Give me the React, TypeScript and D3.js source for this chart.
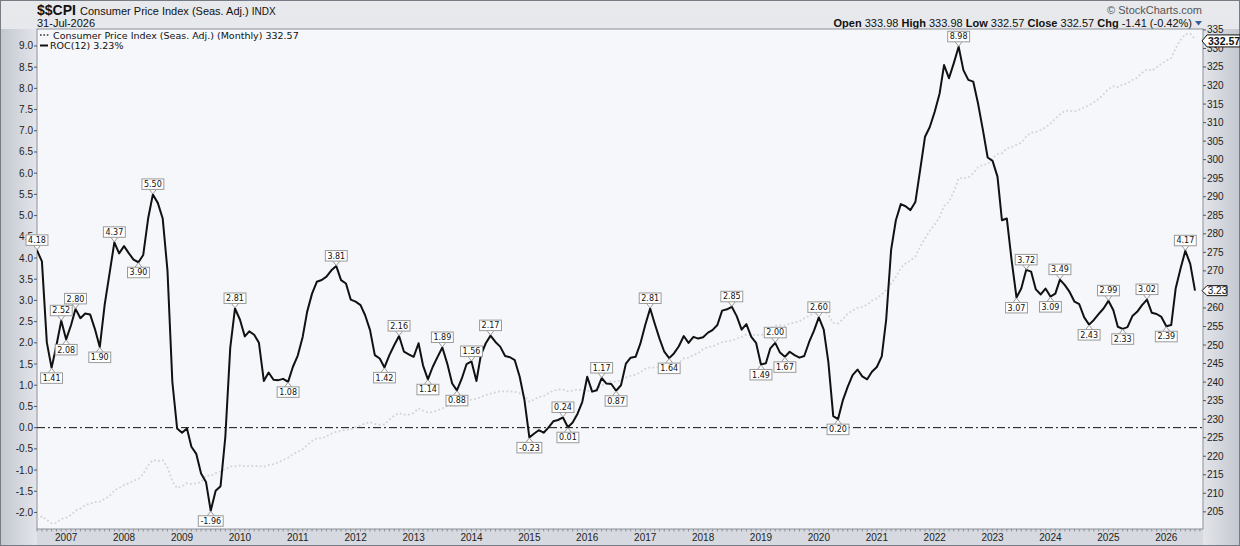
import { line, scaleLinear, scaleTime, timeFormat, timeMonth, timeYear } from "d3";
import type { ReactElement } from "react";

// monthly series, Jul 2006 .. Jul 2026
const startMonth = new Date(2006, 6, 1);
const endMonth = new Date(2026, 6, 1);

// ROC(12) of CPI, % (left axis)
const roc12: ReadonlyArray<number> = [
  4.18, 3.92, 2.01, 1.41, 1.95, 2.52,
  2.08, 2.42, 2.80, 2.58, 2.69, 2.67, 2.33, 1.90, 2.90, 3.62, 4.37, 4.11,
  4.28, 4.11, 3.96, 3.90, 4.07, 4.93, 5.50, 5.30, 4.93, 3.71, 1.07, -0.02,
  -0.12, -0.02, -0.45, -0.62, -1.08, -1.28, -1.96, -1.49, -1.38, -0.22, 1.88, 2.81,
  2.55, 2.15, 2.27, 2.19, 2.00, 1.10, 1.30, 1.13, 1.12, 1.15, 1.08, 1.43,
  1.70, 2.14, 2.73, 3.16, 3.44, 3.48, 3.56, 3.71, 3.81, 3.48, 3.40, 3.02,
  2.97, 2.89, 2.65, 2.30, 1.71, 1.63, 1.42, 1.71, 1.95, 2.16, 1.79, 1.73,
  1.67, 1.99, 1.47, 1.14, 1.43, 1.67, 1.89, 1.51, 1.04, 0.88, 1.16, 1.50,
  1.56, 1.10, 1.71, 1.99, 2.17, 2.02, 1.91, 1.69, 1.66, 1.59, 1.20, 0.65,
  -0.23, -0.14, -0.06, -0.12, 0.00, 0.15, 0.18, 0.24, 0.01, 0.12, 0.33, 0.61,
  1.20, 0.85, 0.88, 1.17, 1.04, 1.03, 0.87, 1.00, 1.51, 1.65, 1.67, 1.98,
  2.42, 2.81, 2.46, 2.10, 1.79, 1.64, 1.75, 1.92, 2.16, 2.00, 2.14, 2.10,
  2.13, 2.24, 2.30, 2.42, 2.76, 2.79, 2.85, 2.63, 2.31, 2.44, 2.14, 2.00,
  1.49, 1.52, 1.87, 2.00, 1.77, 1.67, 1.79, 1.71, 1.65, 1.69, 2.02, 2.28,
  2.60, 2.31, 1.55, 0.27, 0.20, 0.65, 0.96, 1.24, 1.37, 1.21, 1.14, 1.32,
  1.43, 1.68, 2.55, 4.19, 4.89, 5.27, 5.22, 5.13, 5.32, 6.07, 6.86, 7.09,
  7.45, 7.88, 8.55, 8.24, 8.59, 8.98, 8.43, 8.20, 8.16, 7.65, 7.02, 6.37,
  6.29, 5.92, 4.89, 4.93, 3.95, 3.07, 3.28, 3.72, 3.68, 3.26, 3.14, 3.28,
  3.09, 3.16, 3.49, 3.36, 3.20, 2.97, 2.91, 2.60, 2.43, 2.54, 2.68, 2.81,
  2.99, 2.77, 2.38, 2.33, 2.37, 2.63, 2.73, 2.89, 3.02, 2.71, 2.68, 2.61,
  2.39, 2.42, 3.28, 3.75, 4.17, 3.86, 3.23,
];

// CPI, seasonally adjusted (right axis)
const cpiSa: ReadonlyArray<number> = [
  202.9, 203.8, 202.8, 201.9, 202.0, 203.1,
  203.4, 204.2, 205.3, 205.9, 206.8, 207.2, 207.6, 207.7, 208.5, 209.2, 210.8, 211.4,
  212.2, 212.7, 213.4, 213.9, 215.2, 217.5, 219.0, 218.7, 218.9, 217.0, 213.2, 211.4,
  211.9, 212.7, 212.5, 212.7, 213.0, 214.8, 214.7, 215.4, 215.9, 216.5, 217.2, 217.3,
  217.5, 217.3, 217.4, 217.4, 217.3, 217.2, 217.6, 217.9, 218.3, 219.0, 219.6, 220.5,
  221.2, 221.9, 223.0, 224.1, 224.8, 224.8, 225.4, 226.1, 226.6, 226.8, 227.2, 227.2,
  227.8, 228.3, 228.8, 229.2, 228.7, 228.5, 228.6, 229.9, 231.0, 231.6, 231.2, 231.2,
  231.7, 232.9, 232.3, 231.8, 231.9, 232.4, 232.9, 233.5, 233.5, 233.7, 234.1, 234.7,
  235.3, 235.5, 236.0, 236.5, 236.9, 237.2, 237.5, 237.5, 237.5, 237.4, 237.0, 236.3,
  234.7, 235.3, 236.0, 236.2, 237.0, 237.7, 238.0, 238.0, 237.5, 237.7, 238.0, 237.8,
  237.7, 237.3, 238.1, 239.0, 239.6, 240.2, 240.1, 240.5, 241.2, 241.7, 242.0, 242.6,
  243.6, 244.0, 243.9, 244.2, 244.0, 244.2, 244.2, 245.2, 246.4, 246.6, 247.3, 247.8,
  248.9, 249.5, 249.6, 250.2, 250.8, 251.0, 251.2, 251.7, 252.2, 252.8, 252.6, 252.8,
  252.6, 253.3, 254.3, 255.2, 255.3, 255.2, 255.8, 256.0, 256.4, 257.2, 257.9, 258.6,
  259.1, 259.3, 258.1, 256.0, 255.8, 257.0, 258.4, 259.3, 260.0, 260.3, 260.9, 262.0,
  262.6, 263.6, 264.8, 266.6, 268.4, 270.7, 272.0, 272.8, 273.9, 276.5, 278.8, 280.8,
  282.5, 284.5, 287.5, 288.6, 291.3, 295.0, 295.0, 295.2, 296.3, 297.9, 298.6, 298.8,
  300.4, 301.5, 301.7, 303.0, 303.4, 304.0, 304.6, 306.2, 307.3, 307.5, 308.0, 308.7,
  309.7, 311.1, 312.2, 313.2, 313.2, 313.0, 313.5, 314.1, 314.7, 315.5, 316.4, 317.6,
  319.1, 319.8, 319.6, 320.3, 320.6, 321.5, 322.1, 323.4, 324.4, 324.0, 324.9, 325.9,
  326.7, 327.4, 330.1, 332.3, 333.9, 333.98, 332.57,
];

// labelled turning points of the ROC line
const peakMonths = [
  "2006-07", "2006-12", "2007-03", "2007-11", "2008-07", "2009-12", "2011-09", "2012-10",
  "2013-07", "2014-01", "2014-05", "2015-08", "2016-04", "2017-02", "2018-07", "2019-04",
  "2020-01", "2022-06", "2023-08", "2024-03", "2025-01", "2025-09", "2026-05",
];
const troughMonths = [
  "2006-10", "2007-01", "2007-08", "2008-04", "2009-07", "2010-11", "2012-07", "2013-04",
  "2013-10", "2015-01", "2015-09", "2016-07", "2017-06", "2019-01", "2019-06", "2020-05",
  "2023-06", "2024-01", "2024-09", "2025-04", "2026-01",
];

const headerStats = [
  { label: "Open", value: "333.98" },
  { label: "High", value: "333.98" },
  { label: "Low", value: "332.57" },
  { label: "Close", value: "332.57" },
  { label: "Chg", value: "-1.41 (-0.42%)" },
];

const W = 1240;
const H = 546;
const plot = { left: 37, right: 1203, top: 29, bottom: 529 } as const;
const keyFmt = timeFormat("%Y-%m");
const verdana = "'DejaVu Sans', Verdana, sans-serif";

type Row = { date: Date; roc: number; cpi: number };

const labelWidth = (s: string): number =>
  s.split("").reduce((w, ch) => w + (ch === "." ? 2.6 : ch === "-" ? 3 : 5.1), 0) + 4;

export default function App(): ReactElement {
  const months = timeMonth.range(startMonth, timeMonth.offset(endMonth, 1));
  const rows: Row[] = months.map((date, i) => ({ date, roc: roc12[i], cpi: cpiSa[i] }));

  const x = scaleTime().domain([startMonth, endMonth]).range([plot.left, 1195]);
  const yL = scaleLinear().domain([-2.39, 9.4]).range([plot.bottom, plot.top]);
  const yR = scaleLinear().domain([200.37, 335.25]).range([plot.bottom, plot.top]);

  const rocPath = line<Row>().x((d) => x(d.date)).y((d) => yL(d.roc))(rows) ?? "";
  const cpiPath = line<Row>().x((d) => x(d.date)).y((d) => yR(d.cpi))(rows) ?? "";

  const last = rows[rows.length - 1];
  const rocY = yL(last.roc);
  const cpiY = yR(last.cpi);

  const leftTicks = yL.ticks(24);
  // the ROC value marker sits on top of one right-axis label, as in the original
  const rightTicks = yR.ticks(27).filter((t) => Math.abs(yR(t) - rocY) > 7);
  const yearTicks = x.ticks(timeYear);
  const monthTicks = timeMonth.range(startMonth, timeMonth.offset(endMonth, 2));

  const byKey = new Map(rows.map((r) => [keyFmt(r.date), r]));
  const marks = [
    ...peakMonths.map((k) => ({ row: byKey.get(k)!, up: true })),
    ...troughMonths.map((k) => ({ row: byKey.get(k)!, up: false })),
  ];

  return (
    <div style={{ position: "absolute", left: 0, top: 0 }}>
      <svg width={W} height={H} viewBox={`0 0 ${W} ${H}`} style={{ display: "block" }}
        fontFamily="'Liberation Sans', Arial, sans-serif">
        <defs>
          <linearGradient id="frame-v" x1="0" y1="0" x2="0" y2="1">
            <stop offset="0" stopColor="#e8e9ec" />
            <stop offset="1" stopColor="#d6d9df" />
          </linearGradient>
          <linearGradient id="frame-left" x1="0" y1="0" x2="1" y2="0">
            <stop offset="0" stopColor="#c3c7cf" />
            <stop offset="1" stopColor="#e3e5ea" />
          </linearGradient>
          <linearGradient id="frame-right" x1="0" y1="0" x2="1" y2="0">
            <stop offset="0" stopColor="#e3e5ea" />
            <stop offset="1" stopColor="#c3c7cf" />
          </linearGradient>
          <clipPath id="plot-clip">
            <rect x={plot.left} y={plot.top} width={plot.right - plot.left} height={plot.bottom - plot.top} />
          </clipPath>
        </defs>

        <rect x={0} y={0} width={W} height={H} fill="url(#frame-v)" />
        <rect x={0} y={plot.top} width={plot.left} height={H - plot.top} fill="url(#frame-left)" />
        <rect x={plot.right} y={plot.top} width={W - plot.right} height={H - plot.top} fill="url(#frame-right)" />
        <rect x={0.5} y={0.5} width={W - 1} height={H - 1} fill="none" stroke="#767b84" />

        {/* header */}
        <text x={37} y={15} fontSize={14} fontWeight="bold" fill="#111">$$CPI</text>
        <text x={80} y={15} fontSize={11} fill="#111">
          Consumer Price Index (Seas. Adj.) <tspan fontSize={10}>INDX</tspan>
        </text>
        <text x={37} y={27} fontSize={11} fill="#111">31-Jul-2026</text>
        <text x={1202} y={14} fontSize={11} fill="#555" textAnchor="end">© StockCharts.com</text>
        <text x={1192} y={27} fontSize={11} fill="#111" textAnchor="end">
          {headerStats.map((s) => (
            <tspan key={s.label}>
              <tspan fontWeight="bold">{s.label}</tspan> {s.value}{s.label === "Chg" ? "" : "  "}
            </tspan>
          ))}
        </text>
        <path d="M1195,21 L1202,21 L1198.5,25.5 Z" fill="#3a5a9a" />

        {/* plot area */}
        <rect x={plot.left} y={plot.top} width={plot.right - plot.left} height={plot.bottom - plot.top}
          fill="#f5f7fa" stroke="#8b9099" />

        <g clipPath="url(#plot-clip)">
          <line x1={plot.left} x2={plot.right} y1={yL(0)} y2={yL(0)} stroke="#111" strokeWidth={1}
            strokeDasharray="8 3 2 3" />
          <path d={cpiPath} fill="none" stroke="#d2d4d8" strokeWidth={1.8} strokeDasharray="1.8 2.4" />
          <path d={rocPath} fill="none" stroke="#111" strokeWidth={2} strokeLinejoin="round" />
        </g>

        {/* month ruler on x axis */}
        {monthTicks.map((m) => {
          const mx = x(m);
          if (mx < plot.left || mx > plot.right) return null;
          return <line key={`m-${m.getTime()}`} x1={mx} x2={mx} y1={plot.bottom} y2={plot.bottom + 2.5}
            stroke="#7c8088" strokeWidth={0.8} />;
        })}
        {yearTicks.map((t) => (
          <text key={`y-${t.getTime()}`} x={x(t)} y={541} fontSize={10} fill="#222" textAnchor="middle">
            {t.getFullYear()}
          </text>
        ))}

        {/* left axis */}
        {leftTicks.map((t) => (
          <g key={`l-${t}`}>
            <line x1={plot.left - 3} x2={plot.left} y1={yL(t)} y2={yL(t)} stroke="#555" />
            <text x={plot.left - 4} y={yL(t)} dy="0.35em" fontSize={10} fill="#222" textAnchor="end">
              {t.toFixed(1)}
            </text>
          </g>
        ))}

        {/* right axis */}
        {rightTicks.map((t) => (
          <g key={`r-${t}`}>
            <line x1={plot.right} x2={plot.right + 3} y1={yR(t)} y2={yR(t)} stroke="#555" />
            <text x={plot.right + 4} y={yR(t)} dy="0.35em" fontSize={10} fill="#222">{t}</text>
          </g>
        ))}

        {/* turning point labels */}
        {marks.map(({ row, up }) => {
          const px = x(row.date);
          const py = yL(row.roc);
          const txt = row.roc.toFixed(2);
          const bw = labelWidth(txt);
          const bh = 10.5;
          const edge = up ? py - 5 : py + 5;
          const top = up ? edge - bh : edge;
          return (
            <g key={`a-${keyFmt(row.date)}`}>
              <path d={`M${px - 3.5},${edge} L${px},${py + (up ? -0.5 : 0.5)} L${px + 3.5},${edge}`}
                fill="#ffffff" stroke="#9a9a9a" strokeWidth={1} />
              <rect x={px - bw / 2} y={top} width={bw} height={bh} fill="#ffffff" stroke="#9a9a9a" strokeWidth={1} />
              <text x={px} y={top + bh / 2} dy="0.36em" fontSize={8} fontFamily={verdana}
                fill="#111" textAnchor="middle">{txt}</text>
            </g>
          );
        })}

        {/* legend */}
        <line x1={40} x2={50} y1={35} y2={35} stroke="#333" strokeWidth={1.6} strokeDasharray="1.6 1.8" />
        <text x={53} y={38.5} fontSize={9.5} fontFamily={verdana} fill="#111">
          Consumer Price Index (Seas. Adj.) (Monthly) {last.cpi.toFixed(2)}
        </text>
        <line x1={40} x2={48} y1={45.5} y2={45.5} stroke="#111" strokeWidth={2} />
        <text x={50} y={49} fontSize={9.5} fontFamily={verdana} fill="#111">
          ROC(12) {last.roc.toFixed(2)}%
        </text>

        {/* last value markers */}
        <path d={`M${plot.right - 1},${rocY} L${plot.right + 4},${rocY - 5} L${plot.right + 24},${rocY - 5} L${plot.right + 24},${rocY + 5} L${plot.right + 4},${rocY + 5} Z`}
          fill="#ffffff" stroke="#111" strokeWidth={1} />
        <text x={plot.right + 14.5} y={rocY} dy="0.35em" fontSize={10} fill="#111" textAnchor="middle">
          {last.roc.toFixed(2)}
        </text>
        <path d={`M${plot.right - 1},${cpiY + 2} L${plot.right + 4},${cpiY - 4} L${W},${cpiY - 4} L${W},${cpiY + 8} L${plot.right + 4},${cpiY + 8} Z`}
          fill="#ffffff" stroke="#111" strokeWidth={1} />
        <text x={plot.right + 5} y={cpiY + 2} dy="0.36em" fontSize={10.5} fontWeight="bold" fill="#111">
          {last.cpi.toFixed(2)}
        </text>
      </svg>
    </div>
  );
}
